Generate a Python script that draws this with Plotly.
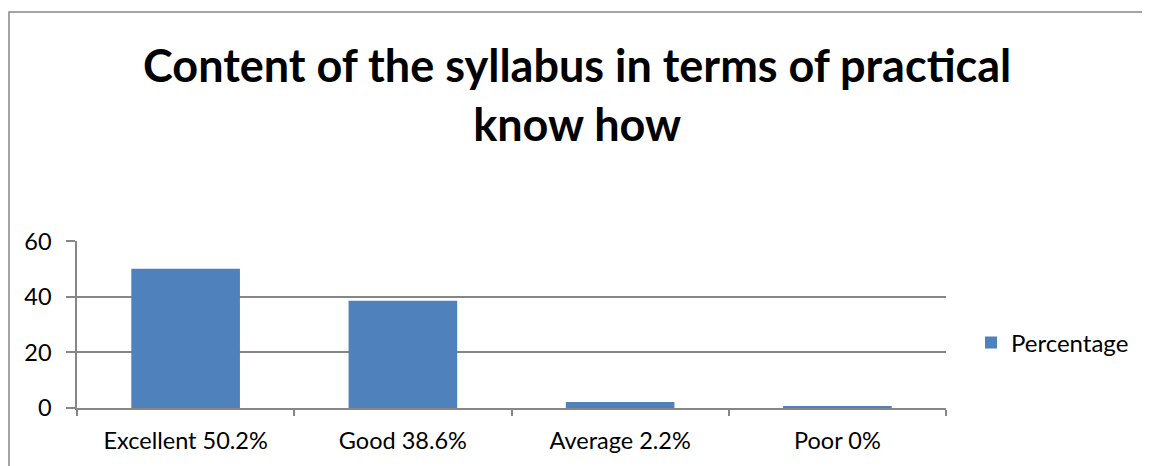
import plotly.graph_objects as go

categories = ["Excellent 50.2%", "Good 38.6%", "Average 2.2%", "Poor 0%"]
percentage = [50.2, 38.6, 2.2, 0.5]
y_ticks = [0, 20, 40, 60]

GRAY = "#868686"
FONT = "Lato"

# the page body has an 8px margin, so lay out in page pixels minus 8
OFF = 8
FW, FH = 1150 - OFF, 466 - OFF

fig = go.Figure()
fig.add_trace(
    go.Bar(
        x=categories,
        y=percentage,
        name="Percentage",
        marker=dict(color="#4F81BD", line=dict(width=0)),
        width=0.5,
    )
)

# plot area in page pixels: x 77..946, y 241..408
L, R, T, B = 77 - OFF, 1150 - 946, 241 - OFF, 466 - 408
W, H = FW - L - R, FH - T - B


def px(x):
    return (x - OFF - L) / W


def py(y):
    return (FH - B - (y - OFF)) / H


# chart frame (top and left edges show in the picture)
fig.add_shape(
    type="rect", xref="paper", yref="paper",
    x0=px(9), x1=px(1170), y0=py(490), y1=py(12),
    line=dict(color=GRAY, width=1.5), fillcolor="rgba(0,0,0,0)", layer="below",
)

fig.add_annotation(
    text="<b>Content of the syllabus in terms of practical<br>know how</b>",
    font=dict(family=FONT, size=45, color="black"),
    xref="paper", yref="paper",
    x=px(577), y=py(94), xanchor="center", yanchor="middle",
    showarrow=False,
)

fig.update_layout(
    width=FW,
    height=FH,
    margin=dict(l=L, r=R, t=T, b=B, autoexpand=False),
    paper_bgcolor="white",
    plot_bgcolor="white",
    font=dict(family=FONT, size=23.5, color="black"),
    showlegend=True,
    legend=dict(
        x=px(971), xanchor="left",
        y=py(343), yanchor="middle",
        font=dict(size=24),
        bgcolor="rgba(0,0,0,0)",
    ),
    bargap=0.5,
    xaxis=dict(
        showgrid=False,
        showline=True, linecolor=GRAY, linewidth=1.5,
        ticks="outside", tickson="boundaries", ticklen=6, tickcolor=GRAY, tickwidth=1.5,
        tickfont=dict(size=23.5),
        ticklabelstandoff=11,
    ),
    yaxis=dict(
        range=[0, 60.15],
        tickvals=y_ticks,
        showgrid=True, gridcolor=GRAY, gridwidth=1.5,
        showline=True, linecolor=GRAY, linewidth=1.5,
        ticks="outside", ticklen=9, tickcolor=GRAY, tickwidth=1.5,
        tickfont=dict(size=23.5),
        ticklabelstandoff=10,
        zeroline=False,
    ),
)

fig.write_html("out.html")
